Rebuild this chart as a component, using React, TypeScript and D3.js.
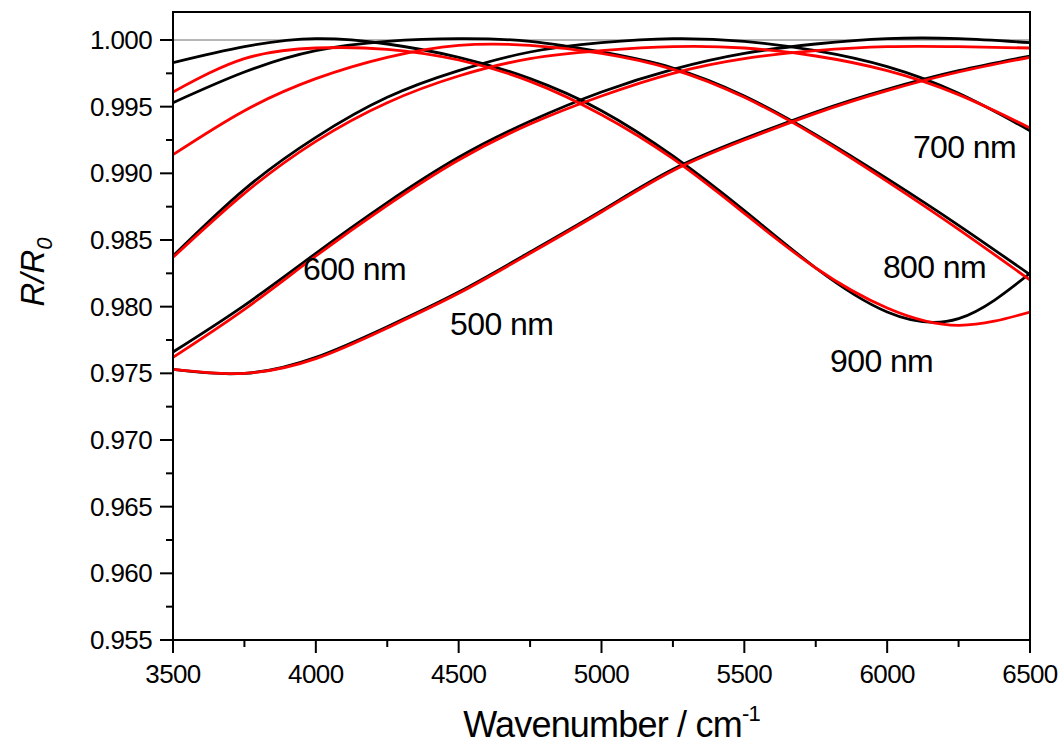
import React from "react"
import * as d3 from "d3"

// wavenumber grid (cm-1)
const wavenumbers = [3500, 3750, 4000, 4250, 4500, 4750, 5000, 5250, 5500, 5750, 6000, 6250, 6500]

// black = one set, red = other set
const black500 = [0.9753, 0.975, 0.9762, 0.9785, 0.9811, 0.9841, 0.9872, 0.9903, 0.9926, 0.9946, 0.9963, 0.9977, 0.9988]
const red500 = [0.9753, 0.975, 0.9761, 0.9784, 0.981, 0.984, 0.9871, 0.9902, 0.9925, 0.9945, 0.9962, 0.9976, 0.9987]
const black600 = [0.9766, 0.9801, 0.984, 0.9878, 0.9912, 0.9939, 0.9961, 0.9978, 0.999, 0.9997, 1.0001, 1.0001, 0.9998]
const red600 = [0.9762, 0.9798, 0.9838, 0.9876, 0.991, 0.9937, 0.9958, 0.9975, 0.9986, 0.9992, 0.9995, 0.9995, 0.9994]
const black700 = [0.9838, 0.9888, 0.9927, 0.9957, 0.9977, 0.9991, 0.9998, 1.0001, 0.9999, 0.9992, 0.998, 0.996, 0.9932]
const red700 = [0.9837, 0.9885, 0.9924, 0.9953, 0.9973, 0.9986, 0.9992, 0.9995, 0.9994, 0.9988, 0.9977, 0.9959, 0.9934]
const black800 = [0.9953, 0.9976, 0.9992, 0.9999, 1.0001, 0.9999, 0.9991, 0.9979, 0.9958, 0.9929, 0.9896, 0.9861, 0.9824]
const red800 = [0.9914, 0.9947, 0.9971, 0.9987, 0.9996, 0.9996, 0.999, 0.9978, 0.9957, 0.9928, 0.9894, 0.9858, 0.982]
const black900 = [0.9983, 0.9995, 1.0001, 0.9997, 0.9987, 0.9971, 0.9947, 0.9913, 0.9872, 0.9829, 0.9796, 0.9791, 0.9825]
const red900 = [0.9961, 0.9986, 0.9994, 0.9993, 0.9985, 0.9969, 0.9944, 0.9911, 0.987, 0.9829, 0.9799, 0.9786, 0.9796]

const blackSeries = [black500, black600, black700, black800, black900]
const redSeries = [red500, red600, red700, red800, red900]

const xTicks = [3500, 4000, 4500, 5000, 5500, 6000, 6500]
const xMinor = [3750, 4250, 4750, 5250, 5750, 6250]
const yTicks = [0.955, 0.96, 0.965, 0.97, 0.975, 0.98, 0.985, 0.99, 0.995, 1.0]
const yMinor = [0.9575, 0.9625, 0.9675, 0.9725, 0.9775, 0.9825, 0.9875, 0.9925, 0.9975]

// label anchor: left edge / baseline in data units
const curveLabels = [
  { text: "500 nm", x: 4470, y: 0.97788 },
  { text: "600 nm", x: 3955, y: 0.982 },
  { text: "700 nm", x: 6090, y: 0.99115 },
  { text: "800 nm", x: 5985, y: 0.98215 },
  { text: "900 nm", x: 5800, y: 0.9751 },
]

const font = "Arial, 'Liberation Sans', sans-serif"

export default function App() {
  const left = 173, right = 1030, top = 12, bottom = 640

  const x = d3.scaleLinear().domain([3500, 6500]).range([left, right])
  const y = d3.scaleLinear().domain([0.955, 1.0021]).range([bottom, top])

  const line = d3
    .line<number>()
    .x((d, i) => x(wavenumbers[i]))
    .y((d) => y(d))
    .curve(d3.curveNatural)

  return (
    <svg width={1064} height={745} style={{ position: "absolute", left: 0, top: 0, background: "#fff" }} fontFamily={font}>
      <defs>
        <clipPath id="plot">
          <rect x={left} y={top} width={right - left} height={bottom - top} />
        </clipPath>
      </defs>

      {/* reference line at 1 */}
      <line x1={left} x2={right} y1={y(1)} y2={y(1)} stroke="#6e6e6e" strokeWidth={1} />

      <g clipPath="url(#plot)" fill="none" strokeWidth={2.8} strokeLinejoin="round">
        {blackSeries.map((s, i) => (
          <path key={"b" + i} d={line(s) || ""} stroke="#000" />
        ))}
        {redSeries.map((s, i) => (
          <path key={"r" + i} d={line(s) || ""} stroke="#ff0000" />
        ))}
      </g>

      {/* frame */}
      <rect x={left} y={top} width={right - left} height={bottom - top} fill="none" stroke="#000" strokeWidth={2} />

      {/* x axis ticks */}
      {xTicks.map((t) => (
        <g key={"xt" + t}>
          <line x1={x(t)} x2={x(t)} y1={bottom} y2={bottom + 13} stroke="#000" strokeWidth={2} />
          <text x={x(t)} y={bottom + 43} textAnchor="middle" fontSize={26} letterSpacing={-0.6}>
            {t}
          </text>
        </g>
      ))}
      {xMinor.map((t) => (
        <line key={"xm" + t} x1={x(t)} x2={x(t)} y1={bottom} y2={bottom + 7} stroke="#000" strokeWidth={2} />
      ))}

      {/* y axis ticks */}
      {yTicks.map((t) => (
        <g key={"yt" + t}>
          <line x1={left - 13} x2={left} y1={y(t)} y2={y(t)} stroke="#000" strokeWidth={2} />
          <text x={left - 21} y={y(t) + 9} textAnchor="end" fontSize={26} letterSpacing={-0.6}>
            {d3.format(".3f")(t)}
          </text>
        </g>
      ))}
      {yMinor.map((t) => (
        <line key={"ym" + t} x1={left - 7} x2={left} y1={y(t)} y2={y(t)} stroke="#000" strokeWidth={2} />
      ))}

      {/* curve labels */}
      {curveLabels.map((l) => (
        <text key={l.text} x={x(l.x)} y={y(l.y)} fontSize={32} letterSpacing={-0.6}>
          {l.text}
        </text>
      ))}

      {/* axis titles */}
      <text x={(left + right) / 2 + 10} y={737} textAnchor="middle" fontSize={36} letterSpacing={-0.8}>
        Wavenumber / cm<tspan dy={-16} fontSize={22}>-1</tspan>
      </text>
      <text transform={`translate(44, 272) rotate(-90)`} textAnchor="middle" fontSize={33} fontStyle="italic">
        R/R<tspan dy={8} fontSize={22}>0</tspan>
      </text>
    </svg>
  )
}
